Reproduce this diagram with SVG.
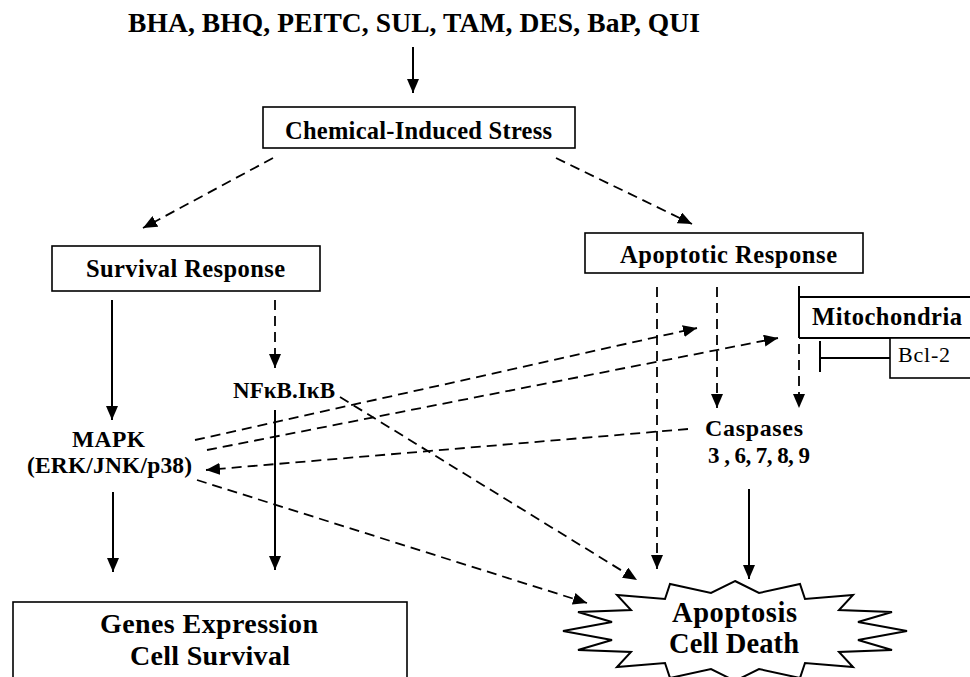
<svg xmlns="http://www.w3.org/2000/svg" width="970" height="677" viewBox="0 0 970 677">
<style>
  text { font-family: "Liberation Serif", "Times New Roman", serif; font-weight: bold; fill: #000; }
  .box { fill: #fff; stroke: #000; stroke-width: 1.6; }
  .ln { fill: none; stroke: #000; stroke-width: 2; }
  .dash { fill: none; stroke: #000; stroke-width: 1.8; stroke-dasharray: 10 6; }
  .solid { fill: none; stroke: #000; stroke-width: 2; }
</style>
<defs>
  <marker id="ah" viewBox="0 0 14 12" refX="14" refY="6" markerWidth="14" markerHeight="12" markerUnits="userSpaceOnUse" orient="auto">
    <path d="M0,0 L14,6 L0,12 z" fill="#000"/>
  </marker>
</defs>
<rect width="970" height="677" fill="#fff"/>

<g id="title">
  <text x="128" y="32" font-size="27.5" textLength="572">BHA, BHQ, PEITC, SUL, TAM, DES, BaP, QUI</text>
</g>

<g id="chemical-stress">
  <rect class="box" x="263" y="107" width="312" height="41"/>
  <text x="285" y="139" font-size="24.5" textLength="267">Chemical-Induced Stress</text>
</g>

<g id="survival-response">
  <rect class="box" x="52" y="246" width="268" height="45"/>
  <text x="86" y="277" font-size="24.5" textLength="199">Survival Response</text>
</g>

<g id="apoptotic-response">
  <rect class="box" x="585" y="233" width="278" height="40"/>
  <text x="620" y="263" font-size="24.5" textLength="217">Apoptotic Response</text>
</g>

<g id="nfkb">
  <text x="233" y="398" font-size="23" textLength="102">NFκB.IκB</text>
</g>

<g id="mapk">
  <text x="72" y="447" font-size="23.5" textLength="73">MAPK</text>
  <text x="27" y="473" font-size="23.5" textLength="165">(ERK/JNK/p38)</text>
</g>

<g id="caspases">
  <text x="705" y="436" font-size="24" textLength="98">Caspases</text>
  <text x="708" y="463" font-size="23" textLength="102">3 , 6, 7, 8, 9</text>
</g>

<g id="mitochondria">
  <line class="ln" x1="799" y1="297" x2="975" y2="297"/>
  <line class="ln" x1="799" y1="338" x2="975" y2="338"/>
  <text x="812" y="325" font-size="24.5" textLength="150">Mitochondria</text>
</g>

<g id="bcl2">
  <rect class="box" x="890" y="338" width="90" height="40"/>
  <text x="898" y="362" font-size="22" style="font-weight:normal" textLength="52">Bcl-2</text>
</g>

<g id="genes-expression">
  <rect class="box" x="13" y="602" width="394" height="90"/>
  <text x="100" y="633" font-size="28" textLength="218">Genes Expression</text>
  <text x="130" y="665" font-size="28" textLength="160">Cell Survival</text>
</g>

<g id="apoptosis">
  <polygon fill="#fff" stroke="#000" stroke-width="2" stroke-linejoin="miter"
    points="735,581 759,593 800,584 805,599 853,595 839,610 892,612 858,622 907,631 858,640 892,650 839,652 853,667 805,663 800,678 759,669 735,681 711,669 670,678 665,663 617,667 631,652 578,650 612,640 563,631 612,622 578,612 631,610 617,595 665,599 670,584 711,593"/>
  <text x="672" y="622" font-size="28.5" textLength="125">Apoptosis</text>
  <text x="669" y="653" font-size="28.5" textLength="130">Cell Death</text>
</g>

<g id="connectors">
  <line class="solid" x1="413" y1="47" x2="413" y2="93" marker-end="url(#ah)"/>
  <line class="dash" x1="273" y1="158" x2="143" y2="228" marker-end="url(#ah)"/>
  <line class="dash" x1="556" y1="158" x2="692" y2="224" marker-end="url(#ah)"/>
  <line class="solid" x1="112" y1="300" x2="112" y2="420" marker-end="url(#ah)"/>
  <line class="dash" x1="275" y1="300" x2="275" y2="368" marker-end="url(#ah)"/>
  <line class="solid" x1="113" y1="492" x2="113" y2="572" marker-end="url(#ah)"/>
  <line class="solid" x1="275" y1="410" x2="275" y2="570" marker-end="url(#ah)"/>
  <line class="dash" x1="195" y1="440" x2="697" y2="328" marker-end="url(#ah)"/>
  <line class="dash" x1="207" y1="450" x2="778" y2="338" marker-end="url(#ah)"/>
  <line class="dash" x1="688" y1="429" x2="206" y2="470" marker-end="url(#ah)"/>
  <line class="dash" x1="197" y1="480" x2="587" y2="603" marker-end="url(#ah)"/>
  <line class="dash" x1="340" y1="397" x2="637" y2="580" marker-end="url(#ah)"/>
  <line class="dash" x1="657" y1="287" x2="657" y2="569" marker-end="url(#ah)"/>
  <line class="dash" x1="717" y1="287" x2="717" y2="408" marker-end="url(#ah)"/>
  <line class="solid" x1="799" y1="286" x2="799" y2="338"/>
  <line class="dash" x1="799" y1="344" x2="799" y2="408" marker-end="url(#ah)"/>
  <line class="solid" x1="749" y1="489" x2="749" y2="579" marker-end="url(#ah)"/>
  <line class="solid" x1="820" y1="358" x2="890" y2="358"/>
  <line class="solid" x1="820" y1="341" x2="820" y2="372"/>
</g>
</svg>
